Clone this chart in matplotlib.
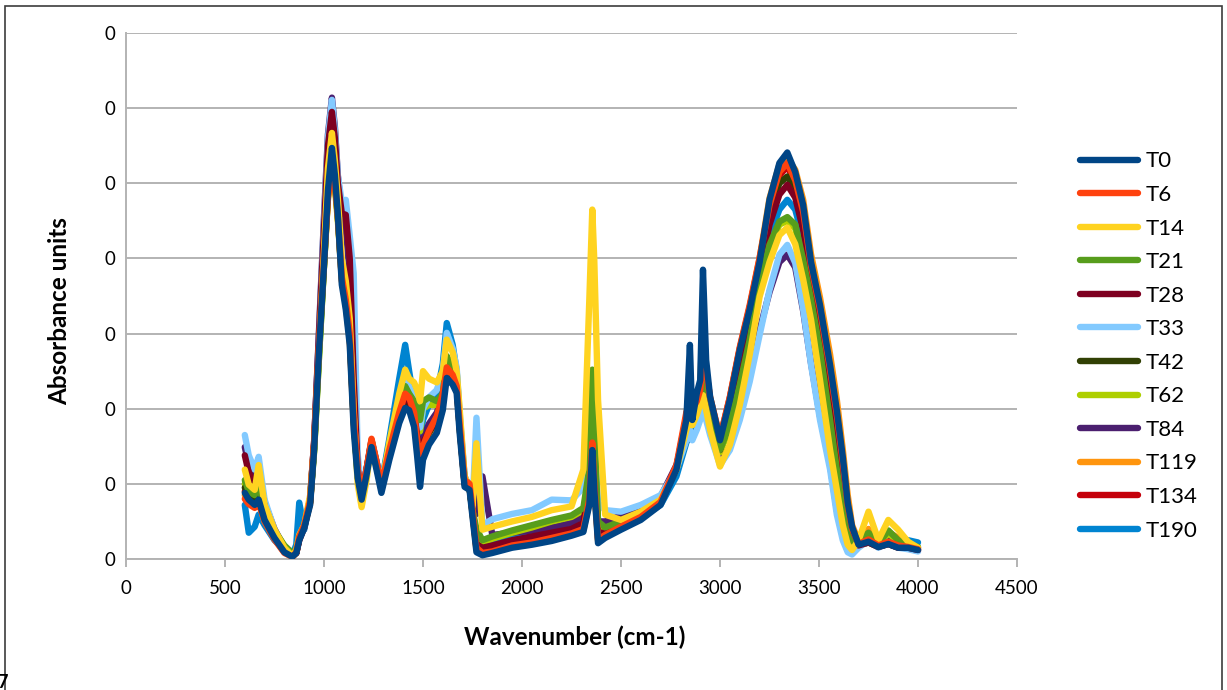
import matplotlib
matplotlib.use("Agg")
import matplotlib.pyplot as plt
from matplotlib.ticker import FuncFormatter, MultipleLocator
from matplotlib.patches import Rectangle

plt.rcParams['font.family'] = ['Lato', 'DejaVu Sans']

wavenumber = [600, 620, 650, 670, 700, 750, 800, 840, 860, 875, 900, 930,
              950, 975, 1000, 1020, 1040, 1055, 1070, 1090, 1110, 1130, 1150, 1170,
              1190, 1215, 1240, 1265, 1290, 1330, 1380, 1410, 1430, 1455, 1470, 1485,
              1500, 1530, 1570, 1600, 1620, 1650, 1670, 1685, 1710, 1735, 1750, 1770,
              1800, 1850, 1950, 2050, 2150, 2250, 2310, 2340, 2355, 2365, 2384, 2420,
              2500, 2600, 2700, 2780, 2830, 2848, 2860, 2883, 2900, 2914, 2930, 2950,
              3000, 3050, 3100, 3150, 3200, 3250, 3300, 3340, 3380, 3420, 3460, 3505,
              3556, 3590, 3620, 3645, 3667, 3700, 3750, 3800, 3850, 3900, 3950, 4000]

T0 = [8.8, 7.9, 7.2, 7.9, 5.2, 2.8, 0.9, 0.3, 0.8, 2.5, 4.1, 7.2,
      14.5, 27.8, 39.1, 49.1, 54.7, 51.1, 45.8, 36.5, 33.2, 28.5, 17.2, 10.8,
      7.9, 11.2, 14.9, 11.9, 8.8, 13.2, 18.1, 20.1, 19.8, 17.6, 13.8, 9.6,
      13.2, 15.2, 16.8, 19.8, 24.1, 23.2, 22.1, 16.8, 9.6, 9.2, 5.6, 0.9,
      0.5, 0.8, 1.5, 1.9, 2.4, 3.1, 3.6, 7.2, 14.5, 9.2, 2.1, 2.8,
      3.9, 5.2, 7.2, 11.9, 18.5, 28.5, 18.5, 22.1, 23.8, 38.5, 26.5, 21.6,
      15.8, 21.2, 27.8, 33.2, 39.5, 47.8, 52.7, 54.1, 51.5, 47.1, 39.5, 33.8,
      25.8, 19.8, 13.6, 7.5, 4.3, 1.9, 2.3, 1.6, 2.0, 1.5, 1.5, 1.2]

T6 = [8.0, 7.3, 6.8, 7.5, 5.0, 2.6, 0.8, 0.3, 0.9, 3.0, 4.5, 7.8,
      15.5, 28.5, 39.5, 48.0, 52.5, 50.0, 45.5, 37.5, 34.5, 30.0, 19.0, 12.0,
      8.5, 12.0, 16.0, 13.0, 9.8, 14.5, 19.5, 22.0, 21.5, 19.5, 16.0, 12.0,
      15.0, 17.0, 19.0, 22.0, 25.5, 24.5, 23.0, 18.0, 10.5, 10.0, 6.5, 1.5,
      0.8, 1.0, 1.8, 2.2, 2.8, 3.4, 4.0, 8.0, 15.5, 10.0, 2.6, 3.2,
      4.3, 5.6, 7.6, 12.5, 19.5, 21.0, 20.0, 21.0, 22.5, 27.0, 25.0, 21.5,
      16.2, 21.6, 28.2, 33.8, 40.1, 47.1, 51.5, 52.7, 50.4, 46.2, 39.0, 33.2,
      25.2, 19.2, 12.9, 7.2, 4.0, 2.0, 2.6, 1.8, 2.3, 1.8, 1.6, 1.3]

T14 = [11.9, 9.9, 9.2, 12.5, 7.2, 3.9, 1.5, 0.4, 1.2, 3.2, 4.5, 8.5,
       15.0, 28.0, 41.0, 52.0, 56.7, 53.0, 48.0, 40.0, 37.0, 32.0, 20.0, 10.0,
       6.9, 10.5, 15.8, 12.5, 9.5, 15.5, 22.0, 25.2, 24.0, 23.5, 22.5, 21.0,
       25.0, 24.0, 23.5, 25.0, 29.2, 27.5, 25.0, 20.0, 11.0, 9.5, 7.0, 15.4,
       3.9, 4.3, 5.0, 5.6, 6.5, 7.0, 11.9, 34.5, 46.5, 39.8, 21.2, 5.9,
       5.2, 6.3, 7.9, 11.9, 17.2, 18.5, 17.8, 19.2, 20.5, 21.8, 19.8, 17.2,
       12.3, 15.2, 20.5, 27.2, 34.9, 39.5, 43.1, 44.1, 41.9, 37.2, 31.8, 23.8,
       14.5, 9.2, 4.5, 1.9, 1.2, 2.5, 6.3, 2.5, 5.2, 3.9, 2.3, 1.5]

T21 = [10.5, 9.0, 8.5, 10.0, 6.5, 3.8, 1.8, 0.8, 1.2, 3.0, 4.5, 8.0,
       14.5, 27.0, 39.0, 48.5, 53.0, 50.0, 45.5, 38.0, 35.0, 30.5, 19.0, 11.0,
       8.0, 11.5, 15.5, 12.5, 9.5, 14.5, 20.0, 23.0, 22.0, 21.0, 20.0, 18.5,
       21.0, 21.5, 21.0, 22.0, 27.0, 25.5, 24.0, 18.5, 10.5, 9.5, 6.5, 4.0,
       2.5, 3.0, 3.8, 4.5, 5.2, 5.8, 6.8, 12.0, 25.2, 18.0, 5.0, 4.2,
       5.0, 6.0, 7.6, 12.0, 18.0, 19.5, 18.5, 20.0, 21.5, 24.0, 21.0, 19.0,
       14.5, 17.9, 23.2, 29.2, 36.5, 41.8, 44.9, 45.5, 44.5, 39.8, 34.5, 27.8,
       18.5, 11.9, 6.5, 3.2, 2.0, 2.2, 3.5, 2.0, 3.8, 2.5, 2.0, 1.6]

T28 = [13.8, 11.5, 10.0, 11.0, 7.0, 3.8, 1.5, 0.5, 0.8, 2.5, 4.2, 8.0,
       15.5, 30.0, 44.0, 55.0, 59.5, 56.0, 50.0, 46.0, 45.8, 40.0, 24.0, 12.0,
       8.5, 12.0, 15.8, 12.8, 9.5, 14.5, 19.5, 21.5, 21.0, 19.5, 16.5, 13.0,
       15.5, 17.0, 18.5, 21.0, 25.5, 24.5, 23.5, 18.0, 10.0, 9.5, 6.5, 2.0,
       1.5, 1.8, 2.5, 3.0, 3.5, 4.0, 4.8, 10.0, 20.2, 13.0, 3.5, 3.5,
       4.5, 5.8, 7.5, 12.0, 18.5, 20.5, 19.0, 20.5, 22.0, 25.0, 22.0, 19.5,
       14.5, 19.8, 26.2, 31.6, 37.8, 44.5, 48.5, 49.8, 48.1, 43.8, 37.2, 31.2,
       23.2, 17.2, 11.2, 5.9, 3.5, 1.8, 2.2, 1.6, 2.0, 1.5, 1.5, 1.2]

T33 = [16.5, 13.8, 11.9, 13.6, 7.9, 3.9, 1.5, 0.5, 0.9, 2.8, 4.1, 8.1,
       15.0, 30.0, 45.0, 56.0, 61.1, 57.0, 51.0, 47.5, 47.8, 43.0, 38.0, 14.0,
       8.5, 12.0, 15.8, 13.0, 10.0, 15.0, 21.0, 23.8, 23.0, 21.5, 19.5, 17.5,
       20.0, 21.5, 22.5, 25.0, 30.1, 28.0, 25.5, 19.5, 11.0, 9.5, 7.0, 18.8,
       4.5, 5.3, 6.0, 6.5, 7.9, 7.8, 9.5, 14.0, 22.0, 16.0, 7.5, 6.5,
       6.3, 7.2, 8.5, 11.9, 15.8, 17.2, 15.8, 17.2, 18.5, 19.8, 18.5, 16.5,
       12.5, 14.5, 18.5, 23.6, 29.8, 35.8, 40.5, 41.8, 39.4, 33.2, 25.8, 18.5,
       11.9, 5.9, 2.5, 0.9, 0.6, 1.5, 2.5, 1.5, 2.2, 1.5, 1.3, 1.0]

T42 = [9.5, 8.5, 7.8, 8.5, 5.8, 3.0, 1.0, 0.4, 0.8, 2.8, 4.3, 7.6,
       15.0, 28.5, 40.0, 50.0, 55.5, 52.0, 46.5, 38.0, 35.0, 30.0, 18.5, 11.5,
       8.2, 11.8, 15.5, 12.5, 9.5, 14.0, 19.0, 21.0, 20.8, 19.0, 16.0, 12.5,
       15.0, 16.8, 18.5, 21.5, 25.0, 24.0, 23.0, 17.5, 10.0, 9.5, 6.2, 1.6,
       1.2, 1.5, 2.2, 2.7, 3.2, 3.8, 4.5, 9.0, 18.0, 11.5, 3.2, 3.4,
       4.4, 5.7, 7.5, 12.2, 18.5, 21.0, 19.2, 20.8, 22.3, 26.0, 22.5, 20.0,
       15.2, 20.5, 27.0, 32.5, 38.8, 46.0, 50.0, 50.9, 49.2, 45.0, 38.5, 32.5,
       24.5, 18.5, 12.5, 6.5, 3.8, 1.8, 2.2, 1.6, 2.0, 1.5, 1.5, 1.2]

T62 = [10.0, 8.8, 8.2, 9.5, 6.2, 3.5, 1.5, 0.6, 1.0, 2.8, 4.4, 7.8,
       14.2, 27.0, 39.0, 48.0, 52.5, 49.5, 45.0, 37.5, 34.5, 30.0, 18.8, 11.0,
       8.0, 11.5, 15.2, 12.3, 9.4, 14.2, 19.5, 22.5, 21.5, 20.5, 19.0, 17.0,
       20.0, 20.5, 20.5, 21.5, 26.0, 25.0, 23.5, 18.0, 10.5, 9.5, 6.5, 3.0,
       2.2, 2.7, 3.5, 4.2, 5.0, 5.6, 6.5, 11.0, 22.0, 16.0, 4.5, 4.0,
       4.8, 5.9, 7.5, 12.0, 17.8, 19.2, 18.2, 19.8, 21.2, 23.5, 20.8, 18.8,
       14.2, 17.5, 22.8, 28.8, 36.0, 41.2, 44.5, 45.0, 44.0, 39.5, 34.0, 27.2,
       18.0, 11.5, 6.2, 3.0, 1.9, 2.2, 3.2, 2.0, 3.4, 2.4, 1.9, 1.5]

T84 = [14.9, 12.5, 11.0, 12.0, 7.5, 4.0, 1.5, 0.5, 0.9, 2.8, 4.2, 8.0,
       15.5, 30.5, 45.5, 56.5, 61.4, 57.5, 51.0, 46.0, 44.0, 38.0, 22.0, 12.5,
       8.5, 12.0, 15.5, 13.0, 9.8, 14.5, 20.0, 22.0, 21.5, 19.5, 16.5, 13.5,
       16.0, 18.0, 19.5, 22.0, 26.0, 25.0, 23.5, 18.0, 10.5, 10.0, 7.5, 6.0,
       11.0, 3.2, 3.5, 3.8, 4.2, 4.8, 5.8, 10.5, 19.0, 13.5, 5.0, 5.0,
       5.8, 6.8, 8.3, 12.5, 17.5, 19.0, 17.8, 19.5, 20.8, 22.5, 20.0, 17.8,
       13.0, 15.0, 19.0, 24.5, 30.5, 35.5, 39.5, 40.5, 38.8, 33.0, 26.0, 19.0,
       12.5, 6.5, 3.0, 1.2, 0.8, 1.6, 2.6, 1.6, 2.4, 1.6, 1.4, 1.1]

T119 = [8.5, 7.6, 7.0, 7.7, 5.0, 2.7, 0.9, 0.3, 0.8, 2.6, 4.2, 7.4,
        14.8, 28.0, 39.0, 48.5, 53.5, 50.5, 45.5, 37.0, 33.8, 29.0, 18.0, 11.5,
        8.2, 11.5, 15.5, 12.5, 9.2, 13.8, 18.8, 21.0, 20.6, 18.6, 15.0, 11.0,
        14.2, 16.2, 18.0, 21.0, 25.0, 24.0, 22.8, 17.5, 10.0, 9.5, 6.0, 1.2,
        0.8, 1.1, 1.7, 2.1, 2.6, 3.3, 3.8, 7.5, 15.0, 9.6, 2.4, 3.0,
        4.1, 5.4, 7.4, 12.2, 18.8, 24.0, 19.0, 21.8, 23.2, 32.0, 25.0, 21.5,
        16.0, 21.4, 28.0, 33.5, 40.0, 48.0, 52.5, 53.3, 51.8, 47.8, 40.5, 34.8,
        27.2, 21.2, 14.6, 8.5, 4.5, 2.4, 4.0, 2.2, 3.6, 2.8, 1.8, 1.4]

T134 = [9.0, 8.0, 7.4, 8.0, 5.4, 2.9, 1.0, 0.3, 0.8, 2.7, 4.2, 7.5,
        15.0, 28.2, 39.5, 49.0, 54.0, 51.0, 46.0, 37.2, 34.0, 29.5, 18.5, 11.5,
        8.2, 11.8, 15.5, 12.6, 9.5, 14.0, 19.0, 21.2, 20.8, 18.8, 15.5, 11.5,
        14.6, 16.6, 18.4, 21.4, 25.2, 24.2, 23.0, 17.6, 10.2, 9.6, 6.2, 1.4,
        1.0, 1.3, 2.0, 2.4, 2.9, 3.5, 4.1, 8.5, 16.5, 10.5, 2.8, 3.3,
        4.3, 5.6, 7.5, 12.2, 19.0, 22.0, 19.5, 21.2, 22.8, 28.0, 24.0, 20.8,
        16.0, 21.5, 28.0, 33.5, 39.8, 46.8, 51.0, 52.3, 50.0, 46.0, 38.8, 33.0,
        25.0, 19.0, 12.8, 7.0, 4.0, 2.0, 2.5, 1.8, 2.2, 1.7, 1.6, 1.3]

T190 = [7.2, 3.5, 4.3, 5.9, 4.5, 2.5, 1.2, 0.5, 1.9, 7.5, 3.9, 7.9,
        15.0, 28.0, 40.0, 49.5, 54.0, 51.0, 46.0, 38.0, 35.0, 30.0, 19.0, 11.5,
        8.0, 11.8, 15.8, 13.0, 10.0, 16.0, 24.0, 28.5, 25.0, 21.0, 18.0, 16.0,
        18.5, 20.5, 22.0, 26.0, 31.4, 28.5, 25.0, 19.0, 11.0, 9.5, 6.5, 2.0,
        2.0, 2.5, 3.0, 3.5, 4.0, 4.5, 5.0, 9.0, 17.0, 11.0, 4.5, 4.0,
        4.5, 5.5, 7.2, 11.0, 15.5, 16.5, 16.0, 18.0, 19.5, 21.0, 19.5, 17.5,
        15.8, 20.0, 25.5, 31.0, 37.0, 43.0, 46.5, 47.8, 46.5, 42.6, 36.5, 30.5,
        23.0, 17.5, 11.5, 6.0, 3.5, 2.2, 2.8, 2.0, 2.5, 2.8, 2.5, 2.2]

series_names = ["T0", "T6", "T14", "T21", "T28", "T33", "T42", "T62", "T84", "T119", "T134", "T190"]
series_values = [T0, T6, T14, T21, T28, T33, T42, T62, T84, T119, T134, T190]
colors = ["#004586", "#ff420e", "#ffd320", "#579d1c", "#7e0021", "#83caff",
          "#314004", "#aecf00", "#4b1f6f", "#ff950e", "#c5000b", "#0084d1"]

fig = plt.figure(figsize=(12.27, 6.90), dpi=100)
ax = fig.add_axes([126/1227, 1 - 559/690, (1017 - 126)/1227, (559 - 33)/690])

n = len(series_names)
handles = []
for i, (name, vals, col) in enumerate(zip(series_names, series_values, colors)):
    ln, = ax.plot(wavenumber, vals, color=col, lw=4.6, label=name,
                  zorder=3 + (n - i), solid_joinstyle='round', solid_capstyle='round')
    handles.append(ln)

ax.set_xlim(0, 4500)
ax.set_ylim(0, 70)
ax.xaxis.set_major_locator(MultipleLocator(500))
ax.yaxis.set_major_locator(MultipleLocator(10))
ax.yaxis.set_major_formatter(FuncFormatter(lambda v, p: "0"))

grid_col = "#b3b3b3"
ax.grid(True, axis='y', color=grid_col, lw=1.4, zorder=0)
ax.set_axisbelow(True)
for s in ['top', 'right']:
    ax.spines[s].set_visible(False)
for s in ['left', 'bottom']:
    ax.spines[s].set_color(grid_col)
    ax.spines[s].set_linewidth(1.4)
ax.tick_params(axis='x', direction='out', length=6, width=1.4, color=grid_col,
               labelsize=13.5, pad=9, labelcolor='black')
ax.tick_params(axis='y', length=0, labelsize=13.5, pad=8, labelcolor='black')

ax.set_xlabel("Wavenumber (cm-1)", fontsize=17.5, fontweight='bold')
ax.set_ylabel("Absorbance units", fontsize=17.5, fontweight='bold')
ax.xaxis.set_label_coords(0.504, -0.148)
ax.yaxis.set_label_coords(-0.074, 0.4715)
ax.xaxis.label.set_va('center')
ax.yaxis.label.set_va('center')

leg = fig.legend(handles=handles, labels=series_names, loc='center left',
                 bbox_to_anchor=(1080/1227, 1 - 346/690), frameon=False,
                 fontsize=16, handlelength=2.6, handletextpad=0.35, labelspacing=0.61,
                 borderaxespad=0, borderpad=0)
for h in leg.get_lines():
    h.set_linewidth(4.6)

fig.patches.append(Rectangle((5/1227, -0.05), (1222 - 5)/1227, 1.05 - 6/690,
                             transform=fig.transFigure, fill=False,
                             edgecolor="#3c3c3c", lw=1.2))
fig.text(-0.002, 1 - 682/690, "7", fontsize=13, fontweight='bold', va='center', ha='left')

fig.savefig("out.png", dpi=100)
